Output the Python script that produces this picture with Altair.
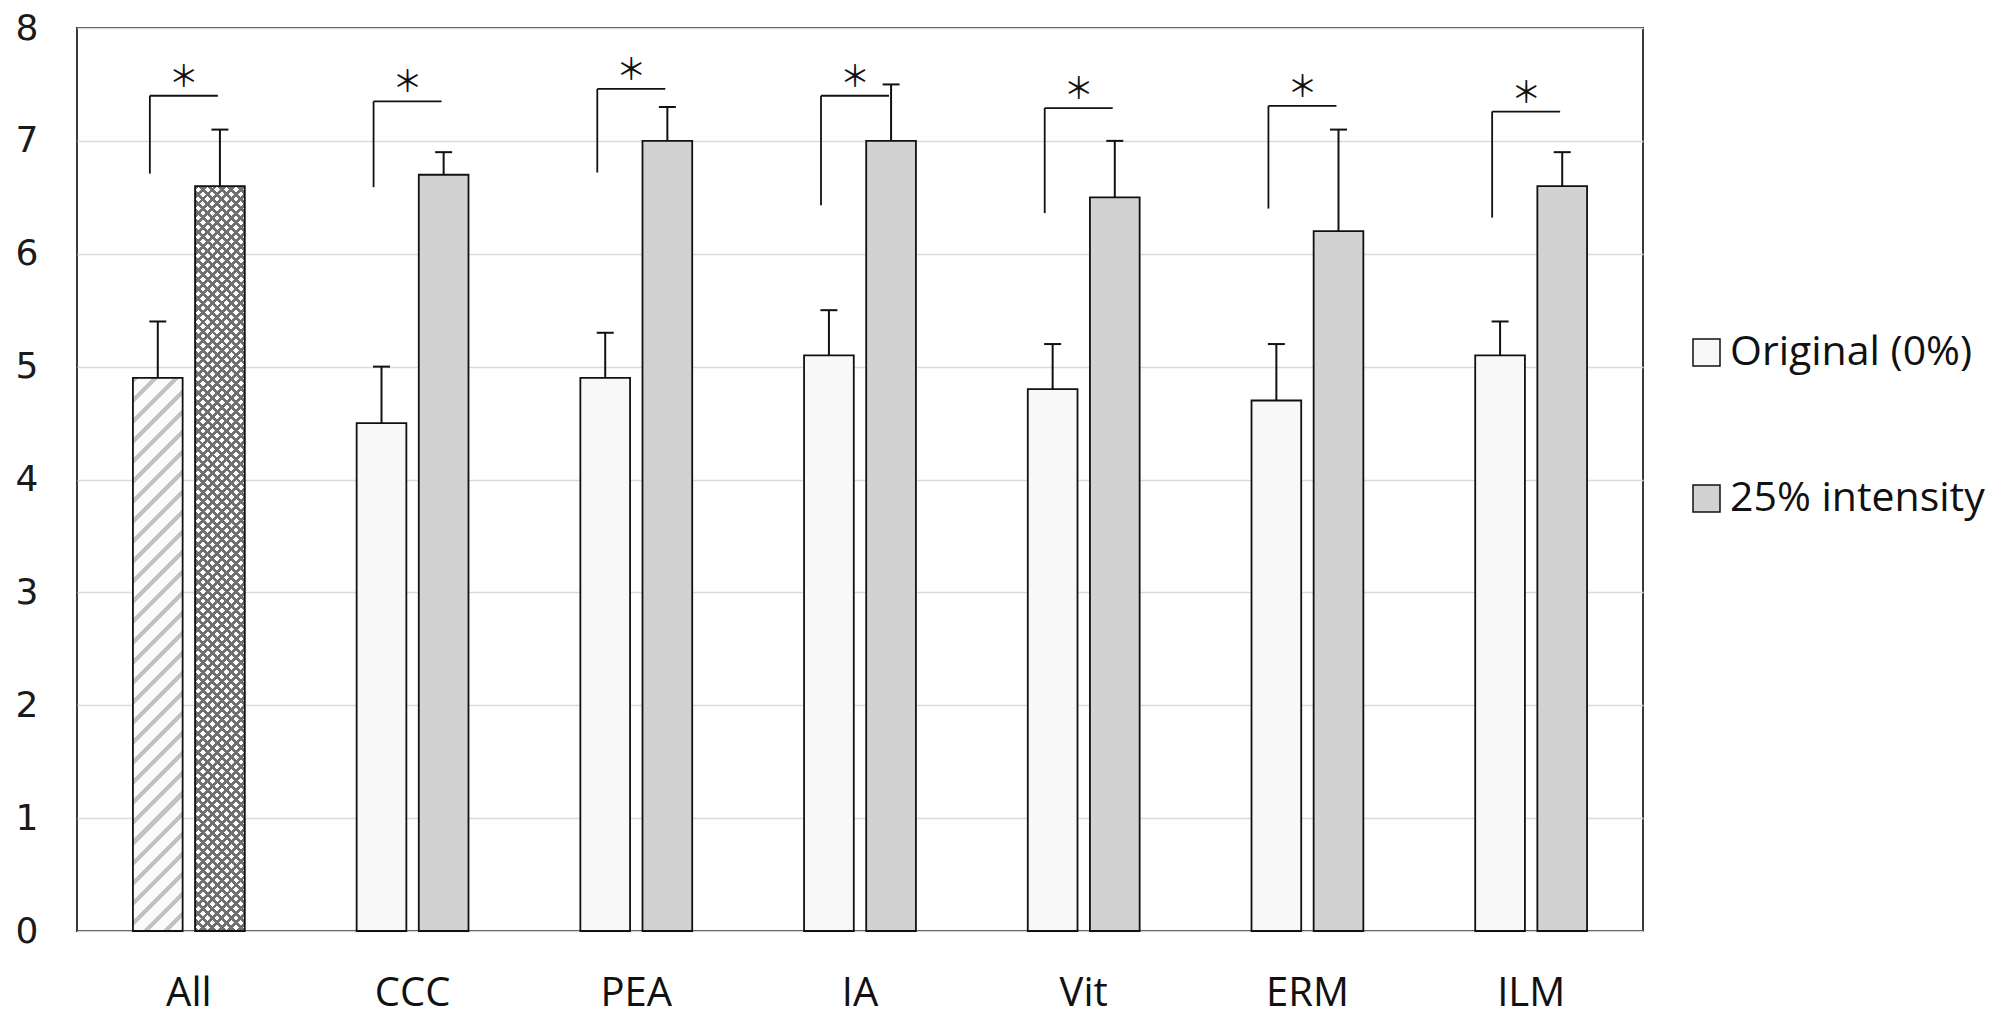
import altair as alt
import pandas as pd

# ---------------- data ----------------
categories = ["All", "CCC", "PEA", "IA", "Vit", "ERM", "ILM"]
series_names = ["Original (0%)", "25% intensity"]
original_mean = [4.9, 4.5, 4.9, 5.1, 4.8, 4.7, 5.1]
original_sd = [0.5, 0.5, 0.4, 0.4, 0.4, 0.5, 0.3]
intensity_mean = [6.6, 6.7, 7.0, 7.0, 6.5, 6.2, 6.6]
intensity_sd = [0.5, 0.2, 0.3, 0.5, 0.5, 0.9, 0.3]
bracket_top = [7.40, 7.35, 7.46, 7.40, 7.29, 7.31, 7.26]
bracket_low = [6.71, 6.59, 6.72, 6.43, 6.36, 6.40, 6.32]
significance = ["＊"] * len(categories)
y_ticks = [0, 1, 2, 3, 4, 5, 6, 7, 8]

rows = []
for i, c in enumerate(categories):
    rows.append(dict(category=c, series=series_names[0], mean=original_mean[i], sd=original_sd[i]))
    rows.append(dict(category=c, series=series_names[1], mean=intensity_mean[i], sd=intensity_sd[i]))
bars = pd.DataFrame(rows)
brackets = pd.DataFrame(dict(category=categories, top=bracket_top, low=bracket_low, label=significance))

# ---------------- layout ----------------
W, H = 1566, 903
YMAX = 8
PAD_INNER, PAD_OUTER, OFF_INNER = 0.5, 0.25, 0.2
step = W / (len(categories) - PAD_INNER + 2 * PAD_OUTER)
band = step * (1 - PAD_INNER)
bar_w = band / (2 - OFF_INNER) * (1 - OFF_INNER)

INK = "#111111"


def diag_gradient(h, period, duty, on, off, direction):
    k = (bar_w + h) / (bar_w ** 2 + h ** 2)
    n = max(1, int(round((bar_w + h) / period)))
    stops = []
    for j in range(n):
        a = j / n
        b = (j + duty) / n
        c = (j + 1) / n
        stops += [
            alt.GradientStop(offset=a, color=on),
            alt.GradientStop(offset=b, color=on),
            alt.GradientStop(offset=b, color=off),
            alt.GradientStop(offset=c, color=off),
        ]
    if direction == "/":
        return alt.LinearGradient(gradient="linear", stops=stops, x1=0, y1=0, x2=bar_w * k, y2=h * k)
    return alt.LinearGradient(gradient="linear", stops=stops, x1=0, y1=1, x2=bar_w * k, y2=1 - h * k)


h_orig = original_mean[0] / YMAX * H
h_int = intensity_mean[0] / YMAX * H
hatch = diag_gradient(h_orig, 20, 0.3, "#c2c2c2", "#fbfbfb", "/")
dots_a = diag_gradient(h_int, 9.5, 0.42, "#707070", "rgba(255,255,255,0)", "/")
dots_b = diag_gradient(h_int, 9.5, 0.42, "#707070", "rgba(255,255,255,0)", "\\")

# ---------------- encodings ----------------
x_enc = alt.X(
    "category:N",
    sort=categories,
    scale=alt.Scale(domain=categories, paddingInner=PAD_INNER, paddingOuter=PAD_OUTER),
    axis=alt.Axis(title=None, labelAngle=0, domain=False, ticks=False, labelPadding=42,
                  labelFontSize=40, labelFont="Open Sans", labelColor=INK),
)
xo_enc = alt.XOffset("series:N", sort=series_names,
                     scale=alt.Scale(domain=series_names, paddingInner=OFF_INNER, paddingOuter=0))
y_axis = alt.Axis(title=None, values=y_ticks, grid=True, gridColor="#dadada", gridWidth=1.5,
                  domain=False, ticks=False, labelPadding=39, labelFont="DejaVu Sans",
                  labelFontSize=36, labelColor="#1a1a1a", labelFlush=False)
y_scale = alt.Scale(domain=[0, YMAX], nice=False)


def Y(field):
    return alt.Y(field, scale=y_scale, axis=y_axis)


base = alt.Chart(bars)

main_bars = base.transform_filter("datum.category != 'All'").mark_bar(
    stroke=INK, strokeWidth=1.8
).encode(
    x=x_enc, xOffset=xo_enc, y=Y("mean:Q"),
    fill=alt.Fill("series:N", sort=series_names,
                  scale=alt.Scale(domain=series_names, range=["#f8f8f8", "#d2d2d2"]),
                  legend=alt.Legend(title=None, orient="none", legendX=1609, legendY=304,
                                    symbolType="square", symbolSize=729, symbolStrokeColor=INK,
                                    symbolStrokeWidth=1.5, symbolOpacity=1, labelFont="Open Sans",
                                    labelFontSize=41, labelColor=INK, labelOffset=3, labelLimit=0,
                                    rowPadding=104, padding=0)),
)

all_orig = "datum.category == 'All' && datum.series == 'Original (0%)'"
all_int = "datum.category == 'All' && datum.series == '25% intensity'"

hatch_bar = base.transform_filter(all_orig).mark_bar(fill=hatch, stroke=INK, strokeWidth=1.8).encode(
    x=x_enc, xOffset=xo_enc, y=Y("mean:Q"))
dot_base = base.transform_filter(all_int).mark_bar(fill="#ffffff", strokeWidth=0).encode(
    x=x_enc, xOffset=xo_enc, y=Y("mean:Q"))
dot_a = base.transform_filter(all_int).mark_bar(fill=dots_a, strokeWidth=0).encode(
    x=x_enc, xOffset=xo_enc, y=Y("mean:Q"))
dot_b = base.transform_filter(all_int).mark_bar(fill=dots_b, strokeWidth=0).encode(
    x=x_enc, xOffset=xo_enc, y=Y("mean:Q"))
dot_outline = base.transform_filter(all_int).mark_bar(fill="#ffffff", fillOpacity=0, stroke=INK,
                                                       strokeWidth=1.8).encode(
    x=x_enc, xOffset=xo_enc, y=Y("mean:Q"))

err_rule = base.transform_calculate(upper="datum.mean + datum.sd").mark_rule(
    stroke=INK, strokeWidth=2).encode(x=x_enc, xOffset=xo_enc, y=Y("mean:Q"), y2="upper:Q")
err_cap = base.transform_calculate(upper="datum.mean + datum.sd").mark_tick(
    color=INK, thickness=2, size=17, opacity=1).encode(x=x_enc, xOffset=xo_enc, y=Y("upper:Q"))

bchart = alt.Chart(brackets)
br_vert = bchart.mark_rule(stroke=INK, strokeWidth=1.8, xOffset=-39).encode(
    x=x_enc, y=Y("low:Q"), y2="top:Q")
br_horiz = bchart.mark_tick(color=INK, thickness=1.8, size=68, xOffset=-5, opacity=1).encode(
    x=x_enc, y=Y("top:Q"))
stars = bchart.mark_text(font="Noto Sans CJK JP", fontSize=30, dx=-5, dy=-18, baseline="middle",
                         align="center", color=INK).encode(x=x_enc, y=Y("top:Q"), text="label:N")

chart = alt.layer(
    main_bars, hatch_bar, dot_base, dot_a, dot_b, dot_outline,
    err_rule, err_cap, br_vert, br_horiz, stars,
).properties(
    width=W, height=H,
    autosize=alt.AutoSizeParams(type="none"),
    padding={"left": 69, "top": 20, "right": 350, "bottom": 85},
    background="white",
).configure_view(stroke="#3a3a3a", strokeWidth=2)

chart.save("out.html", embed_options={"renderer": "svg", "actions": False})
